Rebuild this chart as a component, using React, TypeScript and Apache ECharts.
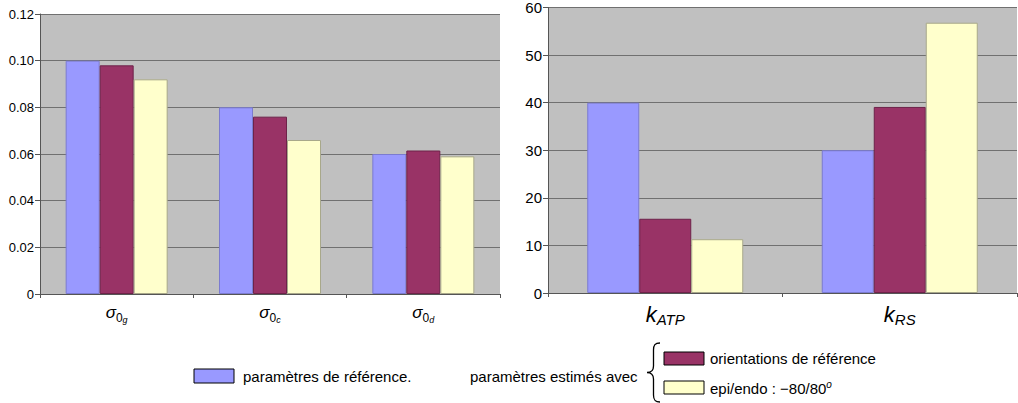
import React, { useEffect, useRef } from 'react';
import * as echarts from 'echarts';

// ---- data ----
const leftCategories = ['g', 'c', 'd'];
const rightCategories = ['ATP', 'RS'];
const leftTicks = [0, 0.02, 0.04, 0.06, 0.08, 0.1, 0.12];
const rightTicks = [0, 10, 20, 30, 40, 50, 60];

const seriesNames = ['paramètres de référence', 'orientations de référence', 'epi/endo : −80/80°'];
const leftRef = [0.1, 0.08, 0.06];
const leftOrient = [0.098, 0.076, 0.0615];
const leftEpi = [0.092, 0.066, 0.059];
const rightRef = [40, 30];
const rightOrient = [15.6, 39.1];
const rightEpi = [11.3, 56.8];

const COLORS = ['#9999ff', '#993366', '#ffffcc'];
const BORDERS = ['#7b7bd0', '#6e2249', '#a8a88a'];
const FONT = 'sans-serif';

const braceD =
  'M13,0 C8,0 6.5,2 6.5,7 L6.5,23 C6.5,27 4,29.5 0,29.5 C4,29.5 6.5,32 6.5,36 L6.5,52 C6.5,57 8,59 13,59';

function buildOption(): any {
  const leftData = [leftRef, leftOrient, leftEpi];
  const rightData = [rightRef, rightOrient, rightEpi];
  const axisLine = { show: true, lineStyle: { color: '#555', width: 1 } };
  const series: any[] = [];
  leftData.forEach((d, i) => {
    series.push({
      type: 'bar',
      name: seriesNames[i],
      xAxisIndex: 0,
      yAxisIndex: 0,
      data: d,
      barWidth: 34,
      barGap: '0%',
      itemStyle: { color: COLORS[i], borderColor: BORDERS[i], borderWidth: 1 },
    });
  });
  rightData.forEach((d, i) => {
    series.push({
      type: 'bar',
      name: seriesNames[i],
      xAxisIndex: 1,
      yAxisIndex: 1,
      data: d,
      barWidth: 52,
      barGap: '0%',
      itemStyle: { color: COLORS[i], borderColor: BORDERS[i], borderWidth: 1 },
    });
  });

  return {
    animation: false,
    backgroundColor: '#ffffff',
    textStyle: { fontFamily: FONT },
    grid: [
      { left: 40, top: 14, width: 460, height: 280, show: true, backgroundColor: '#c0c0c0', borderWidth: 0 },
      { left: 548, top: 7, width: 469, height: 286, show: true, backgroundColor: '#c0c0c0', borderWidth: 0 },
    ],
    xAxis: [
      {
        type: 'category',
        gridIndex: 0,
        data: leftCategories,
        axisLine,
        axisTick: { show: true, length: 4, lineStyle: { color: '#555' } },
        axisLabel: {
          margin: 6,
          formatter: (v: string) => `{s|σ}{z|0}{i|${v}}`,
          rich: {
            s: { fontFamily: FONT, fontStyle: 'italic', fontSize: 17, lineHeight: 24, verticalAlign: 'middle', color: '#000' },
            z: { fontFamily: FONT, fontSize: 12, lineHeight: 14, verticalAlign: 'bottom', color: '#000' },
            i: { fontFamily: FONT, fontStyle: 'italic', fontSize: 9, lineHeight: 9, verticalAlign: 'bottom', color: '#000' },
          },
        },
      },
      {
        type: 'category',
        gridIndex: 1,
        data: rightCategories,
        axisLine,
        axisTick: { show: true, length: 4, lineStyle: { color: '#555' } },
        axisLabel: {
          margin: 8,
          formatter: (v: string) => `{k|k}{sub|${v}}`,
          rich: {
            k: { fontFamily: FONT, fontStyle: 'italic', fontSize: 22, lineHeight: 26, verticalAlign: 'middle', color: '#000' },
            sub: { fontFamily: FONT, fontStyle: 'italic', fontSize: 15, lineHeight: 16, verticalAlign: 'bottom', color: '#000' },
          },
        },
      },
    ],
    yAxis: [
      {
        type: 'value',
        gridIndex: 0,
        min: leftTicks[0],
        max: leftTicks[leftTicks.length - 1],
        interval: leftTicks[1] - leftTicks[0],
        axisLine,
        axisTick: { show: true, length: 5, lineStyle: { color: '#555' } },
        axisLabel: {
          margin: 6,
          fontFamily: FONT,
          fontSize: 13,
          color: '#000',
          formatter: (v: number) => (v === 0 ? '0' : v.toFixed(2)),
        },
        splitLine: { show: true, lineStyle: { color: '#707070', width: 1 } },
      },
      {
        type: 'value',
        gridIndex: 1,
        min: rightTicks[0],
        max: rightTicks[rightTicks.length - 1],
        interval: rightTicks[1] - rightTicks[0],
        axisLine,
        axisTick: { show: true, length: 5, lineStyle: { color: '#555' } },
        axisLabel: { margin: 6, fontFamily: FONT, fontSize: 15, color: '#000' },
        splitLine: { show: true, lineStyle: { color: '#707070', width: 1 } },
      },
    ],
    series,
    graphic: [
      { type: 'rect', shape: { x: 194, y: 369, width: 40, height: 14 }, style: { fill: COLORS[0], stroke: '#000', lineWidth: 1 } },
      { type: 'text', x: 243, y: 376, style: { text: 'paramètres de référence.', fontFamily: FONT, fontSize: 15, fill: '#000', verticalAlign: 'middle' } },
      { type: 'text', x: 470, y: 376, style: { text: 'paramètres estimés avec', fontFamily: FONT, fontSize: 15, fill: '#000', verticalAlign: 'middle' } },
      { type: 'brace', x: 647, y: 343, style: { fill: 'none', stroke: '#000', lineWidth: 1.3 } },
      { type: 'rect', shape: { x: 664, y: 352, width: 40, height: 13 }, style: { fill: COLORS[1], stroke: '#000', lineWidth: 1 } },
      { type: 'text', x: 710, y: 358, style: { text: 'orientations de référence', fontFamily: FONT, fontSize: 15, fill: '#000', verticalAlign: 'middle' } },
      { type: 'rect', shape: { x: 664, y: 381, width: 40, height: 13 }, style: { fill: COLORS[2], stroke: '#000', lineWidth: 1 } },
      {
        type: 'text',
        x: 710,
        y: 388,
        style: {
          text: '{a|epi/endo : −80/80}{o|o}',
          fill: '#000',
          verticalAlign: 'middle',
          rich: {
            a: { fontFamily: FONT, fontSize: 15, lineHeight: 18, verticalAlign: 'middle' },
            o: { fontFamily: FONT, fontStyle: 'italic', fontSize: 10, lineHeight: 10, verticalAlign: 'top' },
          },
        },
      },
    ],
  };
}

export default function App() {
  const ref = useRef<HTMLDivElement>(null);
  useEffect(() => {
    if (!ref.current) return;
    try {
      echarts.graphic.registerShape('brace', echarts.graphic.extendPath(braceD, {}) as any);
    } catch (e) {
      // ignore
    }
    const chart = echarts.init(ref.current, null, { renderer: 'svg' });
    chart.setOption(buildOption());
    return () => chart.dispose();
  }, []);
  return (
    <div
      ref={ref}
      style={{ position: 'absolute', left: 0, top: 0, width: 1018, height: 403, background: '#fff' }}
    />
  );
}
